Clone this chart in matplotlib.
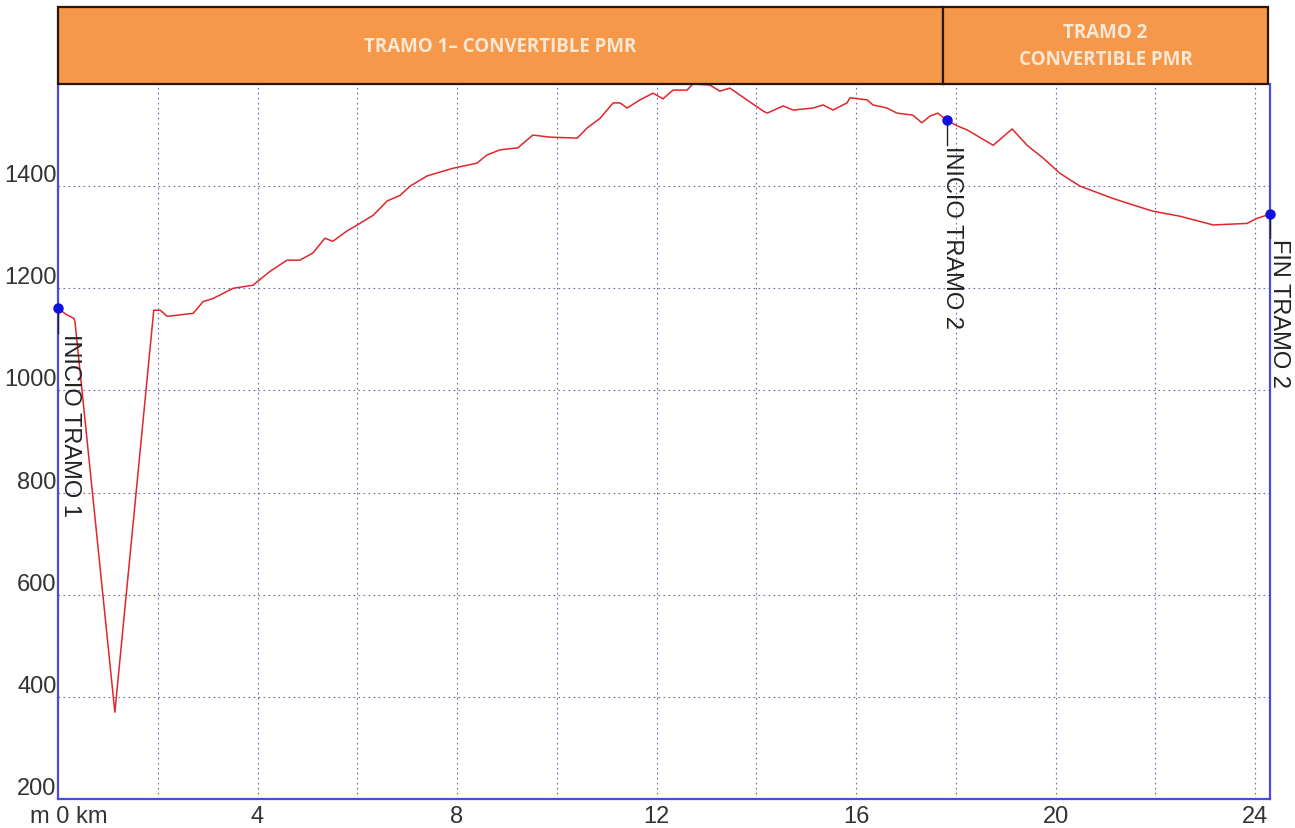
#!/usr/bin/env python3
# -*- coding: utf-8 -*-
"""
Perfil longitudinal del recorrido (Tramo 1 + Tramo 2), cota en m sobre km.
"""
import matplotlib
matplotlib.use("Agg")
import matplotlib.pyplot as plt
from matplotlib.patches import Rectangle

# ───────────────────────────────────────────────────────────────────────
# Datos
# ───────────────────────────────────────────────────────────────────────
dist_km = [
    0.00, 0.16, 0.32, 0.34, 1.14, 1.92, 2.05, 2.19, 2.71, 2.91,
    3.11, 3.51, 3.91, 4.01, 4.25, 4.59, 4.85, 5.11, 5.35, 5.51,
    5.79, 6.00, 6.32, 6.60, 6.86, 7.06, 7.40, 7.92, 8.40, 8.60,
    8.86, 9.22, 9.52, 9.86, 10.41, 10.61, 10.87, 11.13, 11.27, 11.41,
    11.67, 11.93, 12.13, 12.33, 12.61, 12.73, 13.07, 13.27, 13.47, 13.81,
    14.14, 14.22, 14.54, 14.74, 15.14, 15.34, 15.54, 15.82, 15.88, 16.22,
    16.34, 16.62, 16.82, 17.14, 17.32, 17.48, 17.64, 17.82, 18.03, 18.23,
    18.75, 19.13, 19.43, 19.75, 20.09, 20.49, 21.15, 21.43, 21.95, 22.50,
    23.16, 23.84, 24.04, 24.30,
]
cota_m = [
    1161, 1149, 1141, 1135, 370, 1157, 1157, 1145, 1151, 1174,
    1180, 1200, 1206, 1214, 1233, 1255, 1255, 1269, 1298, 1292,
    1312, 1324, 1343, 1371, 1382, 1400, 1420, 1435, 1445, 1461,
    1471, 1475, 1500, 1496, 1494, 1514, 1533, 1563, 1563, 1553,
    1569, 1582, 1571, 1588, 1588, 1600, 1598, 1586, 1592, 1569,
    1547, 1543, 1557, 1549, 1553, 1559, 1549, 1563, 1573, 1569,
    1559, 1553, 1543, 1539, 1524, 1537, 1543, 1529, 1518, 1510,
    1480, 1512, 1480, 1455, 1425, 1400, 1376, 1367, 1351, 1341,
    1324, 1327, 1337, 1345,
]

# Hitos (punto azul + rótulo vertical)
hito_km = [0.00, 17.82, 24.30]
hito_m = [1161, 1529, 1345]
hito_txt = ["INICIO TRAMO 1", "INICIO TRAMO 2", "FIN TRAMO 2"]

# Ejes
x_ticks = [0, 4, 8, 12, 16, 20, 24]
x_ticklabels = ["", "4", "8", "12", "16", "20", "24"]
y_ticks = [200, 400, 600, 800, 1000, 1200, 1400, 1600]

# Cabecera de tramos
tramo_lim_km = [0.0, 17.75, 24.26]
tramo_txt = ["TRAMO 1\u2013 CONVERTIBLE PMR", "TRAMO 2\nCONVERTIBLE PMR"]

# ───────────────────────────────────────────────────────────────────────
# Estilo
# ───────────────────────────────────────────────────────────────────────
BLUE_AX = "#4b4bdc"
GRID_C = "#6a6aa8"
LINE_C = "#e0262a"
ORANGE = "#f5984a"
TXT_C = "#333333"

plt.rcParams["font.family"] = ["Liberation Sans", "DejaVu Sans"]

fig = plt.figure(figsize=(12.95, 8.29), dpi=100)
L, B, R, T = 58 / 1295, 1 - 800 / 829, 1270 / 1295, 1 - 85 / 829
ax = fig.add_axes([L, B, R - L, T - B])

ax.set_xlim(0, 24.3)
ax.set_ylim(200, 1600)

# — Rejilla —
ax.set_xticks(x_ticks)
ax.set_xticklabels(x_ticklabels, fontsize=17, color=TXT_C)
ax.set_xticks(range(2, 25, 4), minor=True)
ax.set_yticks(y_ticks)
ax.set_yticklabels([str(v) for v in y_ticks], fontsize=17, color=TXT_C)
for t in ax.get_yticklabels():
    t.set_va("bottom")
ax.tick_params(which="both", length=0, pad=1)
ax.tick_params(axis="x", pad=4)
ax.grid(True, which="both", color=GRID_C, lw=0.8, ls=(0, (1.5, 3)))
for side in ["left", "bottom", "right"]:
    ax.spines[side].set_color(BLUE_AX)
    ax.spines[side].set_linewidth(1.6)
ax.spines["top"].set_visible(False)

# — Perfil —
ax.plot(dist_km, cota_m, color=LINE_C, lw=1.1, zorder=3)

# — Hitos —
ax.plot(hito_km, hito_m, "o", color="#1010e0", ms=6.5, zorder=5, clip_on=False)
txt_dx = [0.24, 0.10, 0.18]
txt_dy = [49, 49, 47]
for xk, ym, s, dx, dy in zip(hito_km, hito_m, hito_txt, txt_dx, txt_dy):
    ax.plot([xk, xk], [ym, ym - dy], color="#222222", lw=1.0, zorder=4, clip_on=False)
    ax.text(xk + dx, ym - dy, s, rotation=-90, ha="center", va="top",
            fontsize=17, color="#222222", zorder=6, clip_on=False)

# "m 0 km" en la esquina inferior izquierda
ax.annotate("m 0 km", xy=(0, 200), xycoords="data", xytext=(-20, -4),
            textcoords="offset points", ha="left", va="top",
            fontsize=17, color=TXT_C, annotation_clip=False)

# — Cabecera naranja —
# la etiqueta 1600 queda casi tapada en el original
fig.add_artist(Rectangle((0, 1 - 81 / 829), 57 / 1295, 81 / 829,
                         transform=fig.transFigure, facecolor="white",
                         edgecolor="none", zorder=9))
x0_px, x1_px = 58, 1268
px_per_km = (1255 - 58) / 24
bot, top = 1 - 85 / 829, 1 - 8 / 829
for i, s in enumerate(tramo_txt):
    a = (x0_px + tramo_lim_km[i] * px_per_km) / 1295
    b = min(x0_px + tramo_lim_km[i + 1] * px_per_km, x1_px) / 1295
    fig.add_artist(Rectangle((a, bot), b - a, top - bot, transform=fig.transFigure,
                             facecolor=ORANGE, edgecolor="#2a1608", lw=1.6, zorder=10))
    fig.text((a + b) / 2, (bot + top) / 2, s, ha="center", va="center",
             fontsize=13.5, fontweight="bold", color="#fde8d6",
             family=["Open Sans", "DejaVu Sans"], linespacing=1.45, zorder=11)

fig.savefig("out.png", dpi=100)
